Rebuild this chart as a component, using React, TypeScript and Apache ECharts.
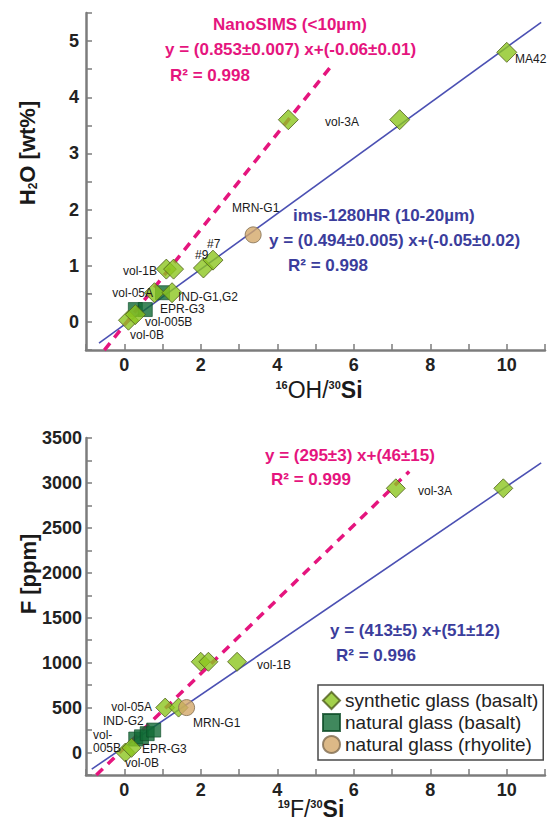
import React, { useEffect, useRef } from "react";
import * as echarts from "echarts";

const FONT = '"Liberation Sans", Arial, Helvetica, sans-serif';

// ---------- data ----------
const h2oSynthetic: [number, number][] = [
  [10.0, 4.8], [7.2, 3.6], [4.29, 3.6], [2.07, 0.96], [2.32, 1.1],
  [1.1, 0.94], [1.29, 0.94], [0.79, 0.52], [1.25, 0.52], [0.11, 0.03], [0.29, 0.13],
];
const h2oNaturalBasalt: [number, number][] = [[0.29, 0.22], [0.55, 0.22], [1.0, 0.52]];
const h2oRhyolite: [number, number][] = [[3.37, 1.55]];

const fSynthetic: [number, number][] = [
  [9.91, 2940], [7.1, 2940], [2.0, 1010], [2.2, 1010], [2.95, 1010],
  [1.07, 500], [1.42, 500], [0.03, 0], [0.19, 52],
];
const fNaturalBasalt: [number, number][] = [[0.3, 150], [0.45, 175], [0.6, 210], [0.77, 250]];
const fRhyolite: [number, number][] = [[1.63, 500]];

// fitted lines: [slope, intercept] and drawn x-range
const h2oNanoFit = [0.853, -0.06];
const h2oNanoRange = [-0.52, 5.42];
const h2oImsFit = [0.494, -0.05];
const h2oImsRange = [-0.66, 10.9];
const fPinkFit = [413, 51];
const fPinkRange = [-0.73, 7.45];
const fBlueFit = [290, 62];
const fBlueRange = [-0.85, 10.9];

const seriesNames = ["synthetic glass (basalt)", "natural glass (basalt)", "natural glass (rhyolite)"];

const xTicks = [0, 2, 4, 6, 8, 10];
const h2oTicks = [0, 1, 2, 3, 4, 5];
const fTicks = [0, 500, 1000, 1500, 2000, 2500, 3000, 3500];

const PINK = "#e5157e";
const BLUE_TXT = "#3b3d9c";
const BLUE_LINE = "#4b50b3";
const AXIS = "#7c7c7c";

function lineData(fit: number[], range: number[]) {
  return range.map((x) => [x, fit[0] * x + fit[1]]);
}

function txt(x: number, y: number, text: string, o: any = {}) {
  return {
    type: "text",
    x,
    y,
    silent: true,
    z: 100,
    style: {
      text,
      fill: o.fill || "#1a1a1a",
      fontFamily: FONT,
      fontSize: o.fontSize || 12,
      fontWeight: o.fontWeight || "normal",
      align: o.align || "left",
      verticalAlign: "middle",
    },
  };
}

function eq(x: number, y: number, text: string, fill: string, align = "left") {
  return txt(x, y, text, { fill, fontSize: 17, fontWeight: "bold", align });
}

function makeX(gridIndex: number) {
  return {
    type: "value",
    gridIndex,
    min: -1,
    max: 11,
    interval: 1,
    axisLine: { show: true, onZero: false, lineStyle: { color: AXIS, width: 2.5 } },
    axisTick: { show: true, inside: true, length: 6, lineStyle: { color: AXIS, width: 1.5 } },
    axisLabel: {
      margin: 6,
      fontFamily: FONT,
      fontSize: 18,
      fontWeight: "bold",
      color: "#222",
      formatter: (v: number) => (xTicks.some((t) => Math.abs(t - v) < 1e-6) ? String(Math.round(v)) : ""),
    },
    splitLine: { show: false },
  };
}

function makeY(gridIndex: number, min: number, max: number, interval: number, ticks: number[], margin: number) {
  return {
    type: "value",
    gridIndex,
    min,
    max,
    interval,
    axisLine: { show: true, onZero: false, lineStyle: { color: AXIS, width: 2.5 } },
    axisTick: { show: true, inside: true, length: 6, lineStyle: { color: AXIS, width: 1.5 } },
    axisLabel: {
      margin,
      fontFamily: FONT,
      fontSize: 18,
      fontWeight: "bold",
      color: "#222",
      formatter: (v: number) => (ticks.some((t) => Math.abs(t - v) < 1e-6) ? String(Math.round(v)) : ""),
    },
    splitLine: { show: false },
  };
}

function scatterSet(xi: number, syn: any[], nat: any[], rhy: any[], dSize: number) {
  return [
    {
      name: seriesNames[1],
      type: "scatter",
      xAxisIndex: xi,
      yAxisIndex: xi,
      symbol: "rect",
      symbolSize: 14,
      z: 3,
      itemStyle: { color: "#106a35", borderColor: "#0b4a25", borderWidth: 0.8 },
      data: nat,
    },
    {
      name: seriesNames[0],
      type: "scatter",
      xAxisIndex: xi,
      yAxisIndex: xi,
      symbol: "diamond",
      symbolSize: dSize,
      z: 4,
      itemStyle: { color: "#8cc51f", borderColor: "#4f5e1c", borderWidth: 1 },
      data: syn,
    },
    {
      name: seriesNames[2],
      type: "scatter",
      xAxisIndex: xi,
      yAxisIndex: xi,
      symbol: "circle",
      symbolSize: 16,
      z: 5,
      itemStyle: { color: "#d3a769", borderColor: "#7f6c4f", borderWidth: 1 },
      data: rhy,
    },
  ];
}

function fitLine(xi: number, name: string, data: any[], color: string, dashed: boolean) {
  return {
    name,
    type: "line",
    xAxisIndex: xi,
    yAxisIndex: xi,
    symbol: "none",
    z: 2,
    silent: true,
    lineStyle: dashed
      ? { color, width: 3.5, type: [9, 7] }
      : { color, width: 1.6, type: "solid" },
    data,
  };
}

const App: React.FC = () => {
  const ref = useRef<HTMLDivElement>(null);

  useEffect(() => {
    if (!ref.current) return;
    const chart = echarts.init(ref.current, undefined, { renderer: "svg" });

    const bold = { fontFamily: FONT, fontWeight: "bold" };

    const graphic: any[] = [
      // ---- top panel annotations ----
      txt(290, 24, "NanoSIMS (<10µm)", { fill: PINK, fontSize: 17, fontWeight: "bold", align: "center" }),
      eq(165, 49, "y = (0.853±0.007) x+(-0.06±0.01)", PINK),
      eq(170, 75, "R² = 0.998", PINK),
      eq(293, 215, "ims-1280HR (10-20µm)", BLUE_TXT),
      eq(269, 240, "y = (0.494±0.005) x+(-0.05±0.02)", BLUE_TXT),
      eq(288, 265, "R² = 0.998", BLUE_TXT),
      txt(325, 122, "vol-3A"),
      txt(515, 59, "MA42"),
      txt(232, 208, "MRN-G1"),
      txt(195, 255, "#9"),
      txt(207, 244, "#7"),
      txt(157, 271, "vol-1B", { align: "right" }),
      txt(153, 293, "vol-05A", { align: "right" }),
      txt(178, 297, "IND-G1,G2"),
      txt(160, 309, "EPR-G3"),
      txt(145, 322, "vol-005B"),
      txt(130, 335, "vol-0B"),
      // ---- bottom panel annotations ----
      eq(265, 455, "y = (295±3) x+(46±15)", PINK),
      eq(271, 479, "R² = 0.999", PINK),
      eq(330, 630, "y = (413±5) x+(51±12)", BLUE_TXT),
      eq(336, 655, "R² = 0.996", BLUE_TXT),
      txt(418, 491, "vol-3A"),
      txt(257, 665, "vol-1B"),
      txt(152, 707, "vol-05A", { align: "right" }),
      txt(193, 723, "MRN-G1"),
      txt(103, 721, "IND-G2"),
      txt(93, 735, "vol-"),
      txt(93, 748, "005B"),
      txt(142, 749, "EPR-G3"),
      txt(125, 763, "vol-0B"),
      // ---- axis titles ----
      {
        type: "text",
        x: 27,
        y: 153,
        rotation: Math.PI / 2,
        silent: true,
        style: {
          text: "{b|H}{s|2}{b|O [wt%]}",
          align: "center",
          verticalAlign: "middle",
          fill: "#1a1a1a",
          rich: {
            b: { ...bold, fontSize: 22, fill: "#1a1a1a", lineHeight: 24 },
            s: { ...bold, fontSize: 12, fill: "#1a1a1a", verticalAlign: "bottom", lineHeight: 24, padding: [10, 0, 0, 0] },
          },
        },
      },
      {
        type: "text",
        x: 28,
        y: 574,
        rotation: Math.PI / 2,
        silent: true,
        style: {
          text: "F [ppm]",
          align: "center",
          verticalAlign: "middle",
          fill: "#1a1a1a",
          fontFamily: FONT,
          fontWeight: "bold",
          fontSize: 22,
        },
      },
      {
        type: "text",
        x: 319,
        y: 390,
        silent: true,
        style: {
          text: "{s|16}{r|OH/}{s|30}{b|Si}",
          align: "center",
          verticalAlign: "middle",
          fill: "#1a1a1a",
          rich: {
            s: { ...bold, fontSize: 11, fill: "#1a1a1a", verticalAlign: "top", lineHeight: 22 },
            r: { fontFamily: FONT, fontSize: 23, fill: "#1a1a1a", lineHeight: 22 },
            b: { ...bold, fontSize: 23, fill: "#1a1a1a", lineHeight: 22 },
          },
        },
      },
      {
        type: "text",
        x: 311,
        y: 809,
        silent: true,
        style: {
          text: "{s|19}{r|F/}{s|30}{b|Si}",
          align: "center",
          verticalAlign: "middle",
          fill: "#1a1a1a",
          rich: {
            s: { ...bold, fontSize: 11, fill: "#1a1a1a", verticalAlign: "top", lineHeight: 22 },
            r: { fontFamily: FONT, fontSize: 23, fill: "#1a1a1a", lineHeight: 22 },
            b: { ...bold, fontSize: 23, fill: "#1a1a1a", lineHeight: 22 },
          },
        },
      },
    ];

    const option: any = {
      animation: false,
      backgroundColor: "#ffffff",
      grid: [
        { left: 86, top: 13, width: 459, height: 337 },
        { left: 86, top: 438, width: 459, height: 337 },
      ],
      xAxis: [makeX(0), makeX(1)],
      yAxis: [
        makeY(0, -0.5, 5.5, 0.5, h2oTicks, 7),
        makeY(1, -250, 3500, 250, fTicks, 4),
      ],
      legend: {
        orient: "vertical",
        left: 318,
        top: 685,
        selectedMode: false,
        itemGap: 1,
        itemWidth: 17,
        itemHeight: 17,
        padding: [5, 5, 5, 4],
        borderColor: "#4a4a4a",
        borderWidth: 1.5,
        backgroundColor: "#ffffff",
        textStyle: { fontFamily: FONT, fontSize: 19, color: "#222", lineHeight: 21 },
        data: seriesNames,
      },
      series: [
        fitLine(0, "ims fit H2O", lineData(h2oImsFit, h2oImsRange), BLUE_LINE, false),
        fitLine(0, "NanoSIMS fit H2O", lineData(h2oNanoFit, h2oNanoRange), PINK, true),
        ...scatterSet(0, h2oSynthetic, h2oNaturalBasalt, h2oRhyolite, 20),
        fitLine(1, "ims fit F", lineData(fBlueFit, fBlueRange), BLUE_LINE, false),
        fitLine(1, "NanoSIMS fit F", lineData(fPinkFit, fPinkRange), PINK, true),
        ...scatterSet(1, fSynthetic, fNaturalBasalt, fRhyolite, 19),
      ],
      graphic,
    };

    chart.setOption(option);
    return () => {
      chart.dispose();
    };
  }, []);

  return (
    <div
      ref={ref}
      style={{ position: "fixed", left: 0, top: 0, width: 551, height: 822, background: "#fff" }}
    />
  );
};

export default App;
